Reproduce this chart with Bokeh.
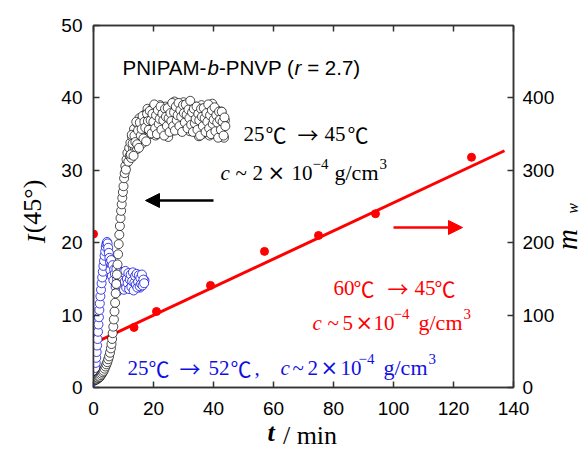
import math
from bokeh.plotting import figure
from bokeh.models import Label, Arrow, NormalHead, Range1d, LinearAxis, FixedTicker
from bokeh.embed import file_html
from bokeh.resources import INLINE

# ---------------- data ----------------
# black: 25C -> 45C, c ~ 2e-4 g/cm3  (left axis, I(45deg))
black_t_rise = [0.8, 1.0, 1.3, 1.6, 1.9, 2.2, 2.5, 2.8, 3.1, 3.4, 3.7, 4.0, 4.3, 4.6, 4.9,
                5.2, 5.5, 5.8, 6.0, 6.2, 6.4, 6.6, 6.8, 7.0, 7.2, 7.4, 7.6, 7.8, 8.0, 8.2,
                8.4, 8.6, 8.8, 9.0, 9.2, 9.4, 9.6, 9.8, 10.0, 10.2, 10.4, 10.6, 10.8, 11.0,
                11.3, 11.6, 11.9, 12.1]
black_I_rise = [1.1, 1.1, 1.2, 1.3, 1.4, 1.5, 1.7, 1.9, 2.1, 2.3, 2.6, 2.9, 3.2, 3.5, 3.9,
                4.3, 4.8, 5.4, 6.0, 6.7, 7.5, 8.4, 9.4, 10.5, 11.7, 13.0, 14.3, 15.6, 17.0, 18.4,
                19.8, 21.1, 22.3, 23.4, 24.4, 25.3, 26.2, 27.0, 27.8, 28.9, 29.6, 30.6, 30.1, 31.5,
                32.4, 31.2, 33.1, 32.0]
black_t_plateau = [12.3, 12.6, 12.9, 13.2, 13.5, 13.8, 14.1, 14.4, 14.7, 15.0,
                   15.3, 15.6, 15.9, 16.2, 16.5, 16.8, 17.1, 17.4, 17.7, 18.0,
                   18.3, 18.6, 18.9, 19.2, 19.5, 19.8, 20.1, 20.4, 20.7, 21.0,
                   21.3, 21.6, 21.9, 22.2, 22.5, 22.8, 23.1, 23.4, 23.7, 24.0,
                   24.3, 24.6, 24.9, 25.2, 25.5, 25.8, 26.1, 26.4, 26.7, 27.0,
                   27.3, 27.6, 27.9, 28.2, 28.5, 28.8, 29.1, 29.4, 29.7, 30.0,
                   30.3, 30.6, 30.9, 31.2, 31.5, 31.8, 32.1, 32.4, 32.7, 33.0,
                   33.3, 33.6, 33.9, 34.2, 34.5, 34.8, 35.1, 35.4, 35.7, 36.0,
                   36.3, 36.6, 36.9, 37.2, 37.5, 37.8, 38.1, 38.4, 38.7, 39.0,
                   39.3, 39.6, 39.9, 40.2, 40.5, 40.8, 41.1, 41.4, 41.7, 42.0,
                   42.3, 42.6, 42.9, 43.2, 43.5, 43.8]
black_I_plateau = [33.8, 31.7, 34.6, 33.0, 35.7, 33.0, 34.9, 32.9, 36.4, 34.7,
                   37.2, 34.2, 36.2, 33.7, 36.9, 35.4, 37.7, 34.7, 36.5, 38.5,
                   35.6, 37.9, 35.0, 37.4, 36.7, 38.6, 35.9, 37.9, 34.8, 38.4,
                   36.6, 37.1, 35.5, 39.0, 36.2, 37.5, 35.1, 38.2, 36.7, 38.8,
                   35.7, 37.3, 34.6, 38.0, 36.4, 38.5, 36.1, 37.9, 35.5, 39.5,
                   37.3, 38.4, 36.1, 39.2, 36.8, 37.9, 35.5, 38.8, 37.0, 39.4,
                   36.3, 37.7, 35.8, 38.6, 37.1, 39.1, 35.4, 38.3, 36.6, 38.8,
                   35.7, 37.7, 37.0, 38.8, 35.7, 38.0, 34.7, 37.6, 36.3, 39.0,
                   35.9, 37.3, 35.1, 38.2, 36.7, 38.7, 35.5, 37.8, 34.8, 38.4,
                   36.5, 39.2, 36.0, 37.3, 35.1, 37.9, 36.1, 38.2, 34.6, 37.5,
                   35.3, 38.1, 36.3, 37.3, 34.5, 36.9]
black_t_plateau2 = [12.45, 12.75, 13.05, 13.35, 13.65, 13.95, 14.25, 14.55, 14.85, 15.15,
                    15.45, 15.75, 16.05, 16.35, 16.65, 16.95, 17.25, 17.55, 17.85, 18.15,
                    18.45, 18.75, 19.05, 19.35, 19.65, 19.95, 20.25, 20.55, 20.85, 21.15,
                    21.45, 21.75, 22.05, 22.35, 22.65, 22.95, 23.25, 23.55, 23.85, 24.15,
                    24.45, 24.75, 25.05, 25.35, 25.65, 25.95, 26.25, 26.55, 26.85, 27.15,
                    27.45, 27.75, 28.05, 28.35, 28.65, 28.95, 29.25, 29.55, 29.85, 30.15,
                    30.45, 30.75, 31.05, 31.35, 31.65, 31.95, 32.25, 32.55, 32.85, 33.15,
                    33.45, 33.75, 34.05, 34.35, 34.65, 34.95, 35.25, 35.55, 35.85, 36.15,
                    36.45, 36.75, 37.05, 37.35, 37.65, 37.95, 38.25, 38.55, 38.85, 39.15,
                    39.45, 39.75, 40.05, 40.35, 40.65, 40.95, 41.25, 41.55, 41.85, 42.15,
                    42.45, 42.75, 43.05, 43.35, 43.65, 43.95]
black_I_plateau2 = [32.2, 34.9, 33.7, 32.0, 34.8, 33.9, 36.7, 33.6, 35.5, 33.1,
                    36.6, 34.8, 35.7, 37.5, 34.4, 36.7, 35.9, 34.0, 37.8, 36.8,
                    35.6, 38.2, 36.9, 35.1, 37.8, 36.7, 39.1, 35.8, 37.6, 35.0,
                    38.3, 36.4, 37.1, 38.8, 35.6, 37.8, 36.9, 34.8, 38.5, 37.4,
                    36.1, 38.6, 37.2, 35.3, 37.9, 36.8, 39.3, 36.1, 38.0, 35.5,
                    38.8, 36.9, 37.6, 39.3, 36.1, 38.3, 37.4, 35.3, 39.0, 37.9,
                    36.6, 39.1, 37.7, 35.8, 38.4, 37.2, 39.6, 36.3, 38.0, 35.3,
                    38.5, 36.5, 37.1, 38.8, 35.6, 37.8, 36.9, 34.8, 38.5, 37.4,
                    36.1, 38.6, 37.2, 35.3, 37.9, 36.7, 39.1, 35.8, 37.6, 35.0,
                    38.3, 36.4, 37.0, 38.7, 35.4, 37.6, 36.6, 34.5, 38.1, 37.0,
                    35.6, 38.1, 36.7, 34.8, 37.3, 36.1]

# blue: 25C -> 52C, c ~ 2e-4 g/cm3 (left axis)
blue_t_rise = [0.0, 0.05, 0.1, 0.15, 0.2, 0.3, 0.45, 0.6, 0.75, 0.9, 1.05, 1.2, 1.35, 1.5, 1.65,
               1.8, 1.95, 2.1, 2.3, 2.5, 2.7, 2.9, 3.1, 3.3, 3.5, 3.7, 3.9, 4.1, 4.3, 4.5,
               4.7, 4.9, 5.1, 5.3]
blue_I_rise = [1.0, 0.9, 1.2, 1.0, 1.3, 1.6, 2.1, 2.7, 3.4, 4.1, 4.9, 5.8, 6.7, 7.7, 8.7,
               9.7, 10.7, 11.6, 12.6, 13.5, 14.4, 15.2, 16.0, 16.8, 17.5, 18.2, 18.8, 19.4, 19.8, 20.1,
               19.9, 19.3, 18.6, 17.9]
blue_t_cluster = [5.5, 5.75, 6.0, 6.25, 6.5, 6.75, 7.0, 7.25, 7.5, 7.75, 8.0, 8.25, 8.5, 8.75,
                  9.0, 9.25, 9.5, 9.75, 10.0, 10.25, 10.5, 10.75, 11.0, 11.25, 11.5, 11.75,
                  12.0, 12.25, 12.5, 12.75, 13.0, 13.25, 13.5, 13.75, 14.0, 14.25, 14.5, 14.75,
                  15.0, 15.25, 15.5, 15.75, 16.0, 16.25, 16.5, 16.75, 17.0]
blue_I_cluster = [17.3, 16.6, 17.0, 15.9, 16.4, 15.1, 16.0, 14.6, 15.5, 13.8, 15.2, 14.1, 16.1, 14.4,
                  15.0, 13.6, 15.6, 14.3, 14.9, 13.9, 15.4, 14.7, 14.0, 15.3, 14.2, 14.8,
                  13.7, 15.1, 14.5, 14.0, 15.2, 14.3, 14.8, 13.9, 15.0, 14.6, 14.1, 15.3,
                  14.4, 14.9, 13.8, 15.2, 14.7, 14.3, 15.0, 14.5, 14.8]
blue_t_cluster2 = [5.625, 5.875, 6.125, 6.375, 6.625, 6.875, 7.125, 7.375, 7.625, 7.875,
                   8.125, 8.375, 8.625, 8.875, 9.125, 9.375, 9.625, 9.875, 10.125, 10.375,
                   10.625, 10.875, 11.125, 11.375, 11.625, 11.875, 12.125, 12.375, 12.625, 12.875,
                   13.125, 13.375, 13.625, 13.875, 14.125, 14.375, 14.625, 14.875, 15.125, 15.375,
                   15.625, 15.875, 16.125, 16.375, 16.625, 16.875]
blue_I_cluster2 = [16.2, 17.6, 15.4, 16.9, 14.8, 16.3, 15.7, 13.9, 16.4, 14.9,
                   13.3, 15.8, 14.6, 16.0, 13.7, 15.3, 14.0, 15.9, 13.5, 14.6,
                   16.1, 13.8, 15.0, 14.4, 15.8, 13.6, 14.9, 15.6, 13.9, 14.7,
                   15.9, 13.4, 14.5, 15.4, 14.2, 15.7, 13.8, 14.6, 15.5, 14.0,
                   15.1, 14.3, 15.6, 14.1, 14.9, 14.4]

# red: 60C -> 45C, c ~ 5e-4 g/cm3 (right axis, m_w)
red_t = [0, 13.5, 21, 39, 57, 75, 94, 126]
red_mw = [212, 83, 105, 141, 188, 210, 240, 318]
fit_t = [0, 137]
fit_mw = [61, 327]

x_ticks = [0, 20, 40, 60, 80, 100, 120, 140]
y_ticks = [0, 10, 20, 30, 40, 50]
mw_ticks = [0, 100, 200, 300, 400]

# ---------------- figure ----------------
W, H = 584, 451
FL, FR, FT, FB = 93, 513, 25, 387   # frame edges in page pixels


def X(px):
    return (px - FL) * 140.0 / (FR - FL)


def Y(py):
    return (FB - py) * 50.0 / (FB - FT)


p = figure(frame_width=FR - FL, frame_height=FB - FT,
           x_range=Range1d(0, 140), y_range=Range1d(0, 50),
           min_border_left=FL, min_border_right=W - FR,
           min_border_top=FT, min_border_bottom=H - FB,
           output_backend="svg", toolbar_location=None,
           background_fill_color="white", border_fill_color="white")
p.extra_y_ranges = {"mw": Range1d(0, 500)}
p.xgrid.visible = False
p.ygrid.visible = False
p.outline_line_color = "#333333"
p.outline_line_width = 1.5

AX = "#333333"
SERIF = "Liberation Serif"
SANS = "Liberation Sans"
CJK = "Noto Sans CJK JP"
NB = "\u00a0"


def style_axis(ax):
    ax.axis_line_color = AX
    ax.axis_line_width = 1.5
    ax.major_tick_line_color = AX
    ax.major_tick_line_width = 1.5
    ax.major_tick_in = 6
    ax.major_tick_out = 0
    ax.minor_tick_line_color = None
    ax.major_label_text_font = SANS
    ax.major_label_text_font_size = "19px"
    ax.major_label_text_color = "black"
    ax.axis_label = None


xa = p.xaxis[0]
xa.ticker = FixedTicker(ticks=x_ticks)
style_axis(xa)
xa.major_label_standoff = 14

ya = p.yaxis[0]
ya.ticker = FixedTicker(ticks=y_ticks)
style_axis(ya)
ya.major_label_standoff = 11

ra = LinearAxis(y_range_name="mw", ticker=FixedTicker(ticks=mw_ticks))
style_axis(ra)
ra.major_label_standoff = 9
p.add_layout(ra, "right")

ta = LinearAxis(ticker=FixedTicker(ticks=x_ticks))
style_axis(ta)
ta.major_label_overrides = {t: "" for t in x_ticks}
ta.major_label_standoff = 0
p.add_layout(ta, "above")


def title_axis(side, text, size, style, standoff):
    ax = LinearAxis(ticker=FixedTicker(ticks=[]), axis_line_color=None,
                    major_tick_line_color=None, minor_tick_line_color=None,
                    major_tick_in=0, major_tick_out=0, major_label_standoff=0,
                    axis_label=text, axis_label_text_font=SERIF,
                    axis_label_text_font_size=f"{size}px",
                    axis_label_text_font_style=style,
                    axis_label_text_color="black")
    ax.axis_label_standoff = standoff
    p.add_layout(ax, side)


def piece_axis(side, tick, text, size, style, standoff, orient):
    # an empty axis whose single tick label carries one piece of a title
    ax = LinearAxis(ticker=FixedTicker(ticks=[tick]), axis_line_color=None,
                    major_tick_line_color=None, minor_tick_line_color=None,
                    major_tick_in=0, major_tick_out=0,
                    major_label_overrides={tick: text},
                    major_label_orientation=orient,
                    major_label_text_font=SERIF,
                    major_label_text_font_size=f"{size}px",
                    major_label_text_font_style=style,
                    major_label_text_color="black")
    ax.major_label_standoff = standoff
    p.add_layout(ax, side)


# axis titles
title_axis("left", "I" + NB * 10, 26, "italic", 8)
title_axis("left", "(45\u00b0)", 26, "normal", -28)
title_axis("below", "t" + NB * 10, 26, "bold italic", 0)
title_axis("below", NB * 2 + "/" + NB + "min", 26, "normal", -29)
piece_axis("right", 19, "m", 29, "italic", 10, math.pi / 2)
piece_axis("right", 24, "w", 16, "italic", -30, math.pi / 2)

# ---------------- glyphs ----------------
BLUE = "#1010e0"
RED = "#ff0000"
p.line(fit_t, fit_mw, y_range_name="mw", line_color=RED, line_width=3)
p.scatter(blue_t_rise + blue_t_cluster + blue_t_cluster2,
          blue_I_rise + blue_I_cluster + blue_I_cluster2, marker="circle", size=9,
          line_color=BLUE, line_width=0.8, fill_color="white")
p.scatter(black_t_rise + black_t_plateau + black_t_plateau2,
          black_I_rise + black_I_plateau + black_I_plateau2, marker="circle", size=9,
          line_color="black", line_width=0.7, fill_color="white")
p.scatter(red_t, red_mw, y_range_name="mw", marker="circle", size=8,
          line_color=RED, fill_color=RED)

p.add_layout(Arrow(end=NormalHead(size=14, fill_color="black", line_color="black"),
                   x_start=X(213), y_start=Y(200), x_end=X(145), y_end=Y(200),
                   line_color="black", line_width=2.5))
p.add_layout(Arrow(end=NormalHead(size=14, fill_color=RED, line_color=RED),
                   x_start=X(393), y_start=Y(227), x_end=X(462), y_end=Y(227),
                   line_color=RED, line_width=2.5))

# ---------------- texts ----------------


def put(txt, px, py, size, color="black", font=SERIF, style="normal"):
    p.add_layout(Label(x=X(px), y=Y(py), text=txt, text_font=font,
                       text_font_size=f"{size}px", text_color=color,
                       text_font_style=style, text_align="left",
                       text_baseline="alphabetic"))


# title line
put("PNIPAM-", 122, 67, 20.5, font=SANS)
put("b", 207, 67, 20.5, font=SANS, style="italic")
put("-PNVP (", 218.5, 67, 20.5, font=SANS)
put("r", 294, 67, 20.5, font=SANS, style="italic")
put(NB + "= 2.7)", 301, 67, 20.5, font=SANS)


def temp_line(parts, base, color):
    for txt, px in parts:
        if txt in ("\u2103", "\u2192"):
            put(txt, px, base, 21, color=color, font=CJK)
        else:
            put(txt, px, base, 21, color=color)


def conc_line(xs, digit, base, color):
    c, tl, d, tm, ten, sup, g = xs
    put("c", c, base, 21, color=color, style="italic")
    put("~", tl, base, 21, color=color)
    put(digit, d, base, 21, color=color)
    put("\u00d7", tm, base, 21, color=color, font="DejaVu Sans")
    put("10", ten, base, 21, color=color)
    put("\u22124", sup, base - 9, 15, color=color)
    put("g/cm", g, base, 22, color=color)
    put("3", g + 45, base - 9, 15, color=color)


temp_line([("25", 243), ("\u2103", 265), ("\u2192", 297),
           ("45", 324), ("\u2103", 347)], 133, "black")
conc_line([220, 235, 252, 267, 291, 312, 334], "2", 172, "black")

temp_line([("60", 333), ("\u2103", 353), ("\u2192", 387),
           ("45", 414), ("\u2103", 434)], 287, RED)
conc_line([312, 327, 342, 355, 373, 393, 418], "5", 322, RED)

temp_line([("25", 127), ("\u2103", 148), ("\u2192", 179),
           ("52", 208), ("\u2103", 230), (",", 254)], 367, BLUE)
conc_line([280, 292, 307, 320, 340, 358, 383], "2", 367, BLUE)

open("out.html", "w").write(file_html(p, INLINE))
